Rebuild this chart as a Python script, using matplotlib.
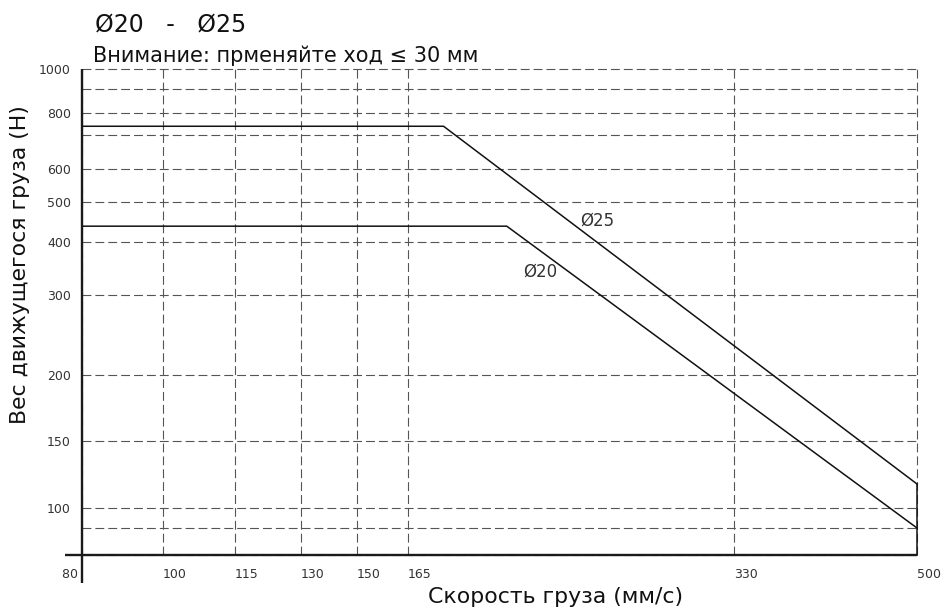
import numpy as np
import matplotlib
matplotlib.use("Agg")
import matplotlib.pyplot as plt
from matplotlib.ticker import FixedLocator, FixedFormatter

# ---------------- data ----------------
x_ticks = [80, 100, 115, 130, 150, 165, 330, 500]
x_tick_labels = ["80 ", "100", "115", "130", "150", "165", "330", "500"]
y_grid = [80, 90, 100, 150, 200, 300, 400, 500, 600, 700, 800, 900, 1000]
y_tick_labels = ["", "", "100", "150", "200", "300", "400", "500", "600", "", "800", "", "1000"]

speed_25 = [80, 183, 500]
load_25 = [740, 740, 118]
speed_20 = [80, 215, 500]
load_20 = [440, 440, 90]

series_names = ["Ø25", "Ø20"]
label_pos_25 = (261, 453)
label_pos_20 = (232, 344)

title = "Ø20   -   Ø25"
subtitle = "Внимание: прменяйте ход ≤ 30 мм"
x_label = "Скорость груза (мм/с)"
y_label = "Вес движущегося груза (Н)"

# ---------------- layout: hand-drawn (piecewise) axis scales ----------------
x_scale_pos = [0, 81, 153, 219, 275, 326, 652, 835]
y_scale_pos = [0, 27, 47, 113.7, 180, 260, 312.7, 353, 386, 419.7, 442.3, 465.7, 485.7]


def piecewise(vals, pos):
    v = np.asarray(vals, float)
    p = np.asarray(pos, float)
    return (lambda a: np.interp(a, v, p), lambda a: np.interp(a, p, v))


W, H = 945, 611
fig = plt.figure(figsize=(W / 100, H / 100), dpi=100)
ax = fig.add_axes([82 / W, 56 / H, 835 / W, 485.7 / H])

ax.set_xscale("function", functions=piecewise(x_ticks, x_scale_pos))
ax.set_yscale("function", functions=piecewise(y_grid, y_scale_pos))
ax.set_xlim(x_ticks[0], x_ticks[-1])
ax.set_ylim(y_grid[0], y_grid[-1])

ax.xaxis.set_major_locator(FixedLocator(x_ticks))
ax.xaxis.set_major_formatter(FixedFormatter(x_tick_labels))
ax.yaxis.set_major_locator(FixedLocator(y_grid))
ax.yaxis.set_major_formatter(FixedFormatter(y_tick_labels))
ax.xaxis.set_minor_locator(FixedLocator([]))
ax.yaxis.set_minor_locator(FixedLocator([]))

grid_style = dict(color="#555555", linewidth=0.8, linestyle=(0, (8, 3.6)))
ax.grid(True, which="major", **grid_style)
ax.set_axisbelow(True)
for gl in ax.get_xgridlines() + ax.get_ygridlines():
    gl.set_clip_on(False)

ax.tick_params(axis="both", length=0, labelsize=9, labelcolor="#333333")
ax.tick_params(axis="y", pad=8)
ax.tick_params(axis="x", pad=9)
for t in ax.get_xticklabels():
    t.set_fontfamily("DejaVu Sans")
    t.set_horizontalalignment("left")
ax.get_xticklabels()[0].set_horizontalalignment("right")
for t in ax.get_yticklabels():
    t.set_fontfamily("DejaVu Sans")

for s in ax.spines.values():
    s.set_visible(False)

# axis lines extending past the origin
ax.plot([0, 0], [-28 / 485.7, 1], transform=ax.transAxes, color="#1a1a1a",
        lw=1.7, clip_on=False, zorder=5, solid_capstyle="butt")
ax.plot([-17 / 835, 1], [0, 0], transform=ax.transAxes, color="#1a1a1a",
        lw=1.7, clip_on=False, zorder=5, solid_capstyle="butt")

# curves
ax.plot(speed_25, load_25, color="#111111", lw=1.1, zorder=4, clip_on=False)
ax.plot(speed_20, load_20, color="#111111", lw=1.1, zorder=4, clip_on=False)
ax.plot([speed_25[-1], speed_25[-1]], [y_grid[0], load_25[-1]],
        color="#111111", lw=1.1, zorder=4, clip_on=False)

ax.text(*label_pos_25, series_names[0], ha="center", va="center",
        fontsize=12, color="#333333", family="DejaVu Sans")
ax.text(*label_pos_20, series_names[1], ha="center", va="center",
        fontsize=12, color="#333333", family="DejaVu Sans")

font = ["DejaVu Sans"]
fig.text(95 / W, 1 - 31 / H, title, ha="left", va="baseline", fontsize=17,
         family=font, color="#111111")
fig.text(93 / W, 1 - 61.7 / H, subtitle, ha="left", va="baseline", fontsize=15,
         family=font, color="#111111")
fig.text(556 / W, 1 - 597 / H, x_label, ha="center", va="center", fontsize=15.8,
         family=font, color="#111111")
fig.text(20 / W, 1 - 265 / H, y_label, ha="center", va="center", fontsize=15.8,
         rotation=90, family=font, color="#111111")

fig.savefig("out.png", dpi=100)
